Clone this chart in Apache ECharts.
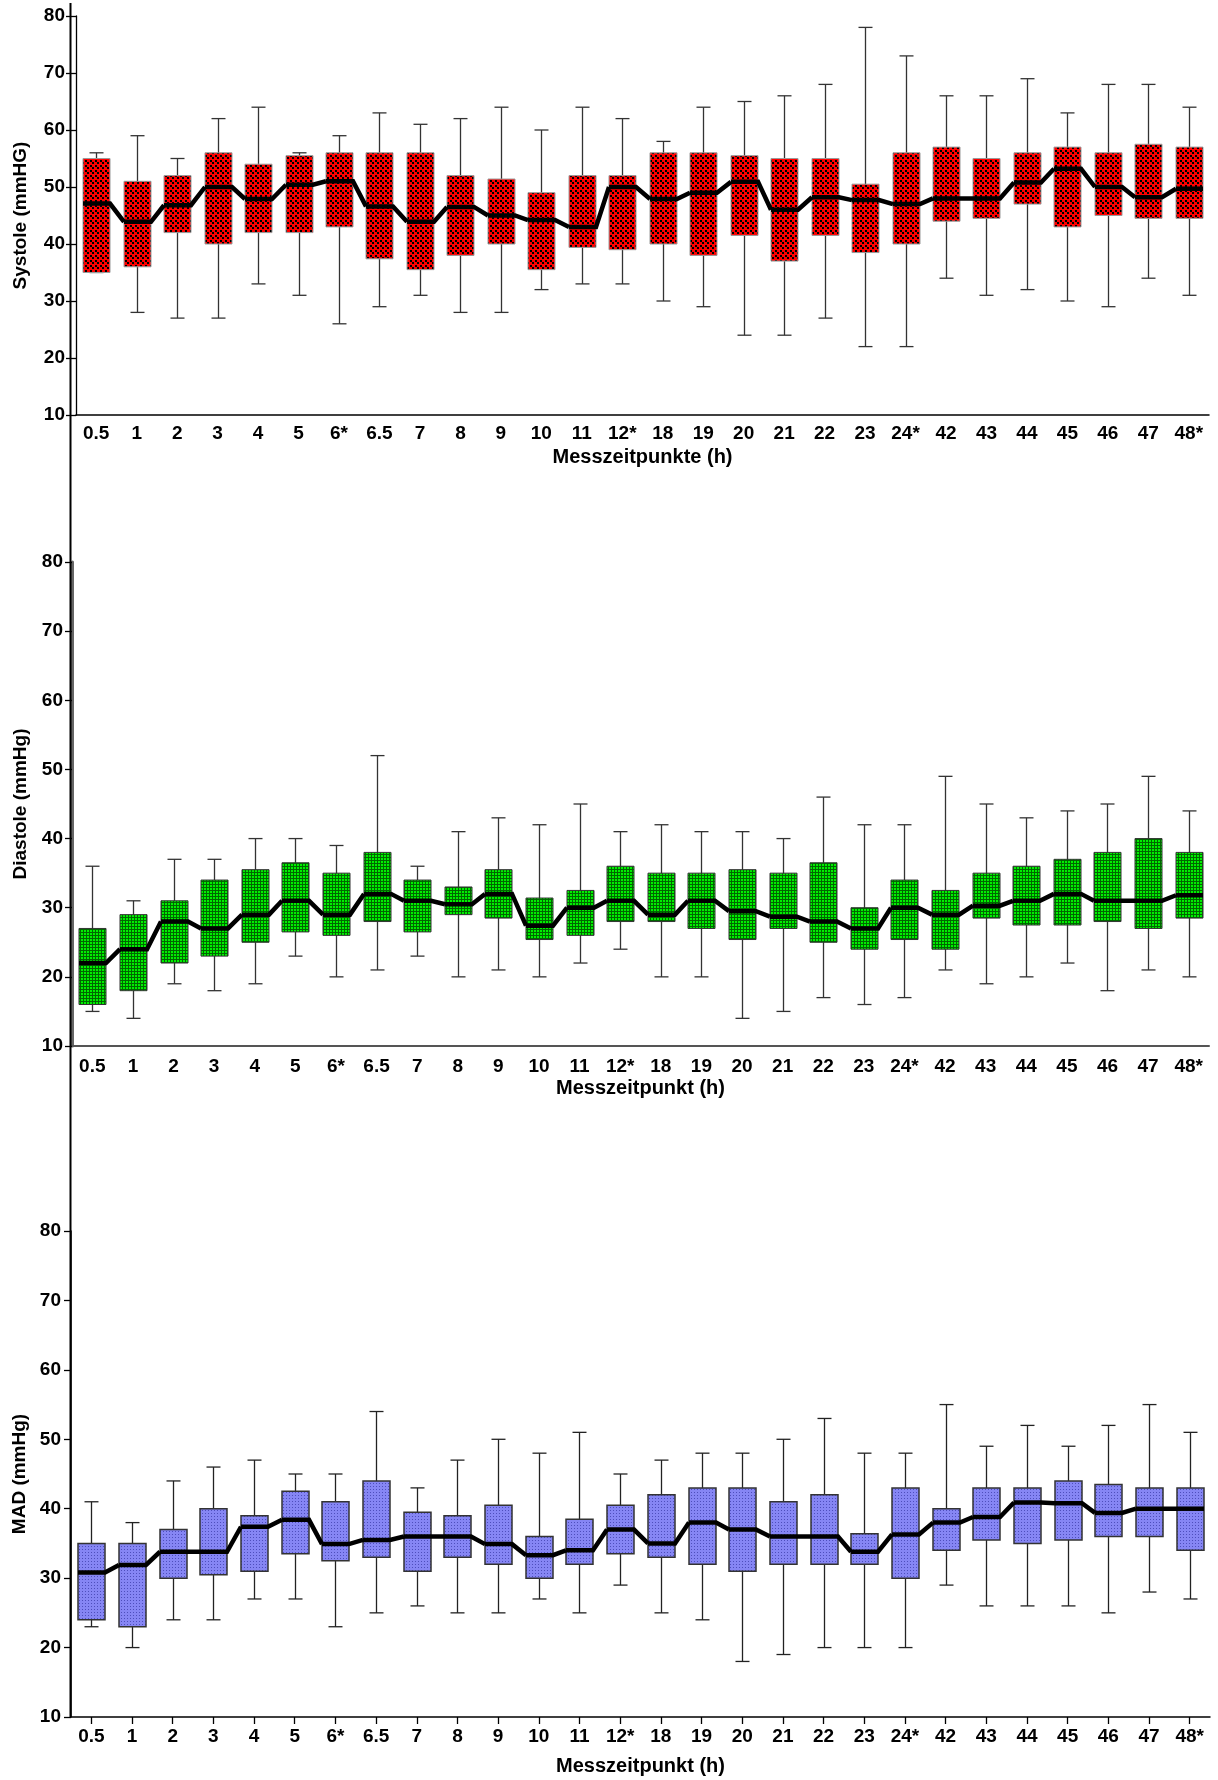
<!DOCTYPE html>
<html><head><meta charset="utf-8">
<script src="https://cdn.jsdelivr.net/npm/echarts/dist/echarts.min.js"></script>
<style>html,body{margin:0;padding:0;background:#fff}#c{width:1218px;height:1780px}</style>
</head><body><div id="c"></div>
<script>
const categories = ['0.5','1','2','3','4','5','6*','6.5','7','8','9','10','11','12*','18','19','20','21','22','23','24*','42','43','44','45','46','47','48*'];
const yMin = 10, yMax = 80, yStep = 10;

// Systole (mmHG)
const sysMin = [35,28,27,27,33,31,26,29,31,28,28,32,33,33,30,29,24,24,27,22,22,34,31,32,30,29,34,31];
const sysQ1  = [35,36,42,40,42,42,43,37.4,35.5,38,40,35.5,39.4,39,40,38,41.5,37,41.5,38.5,40,44,44.5,47,43,45,44.5,44.5];
const sysMed = [47.1,43.9,46.8,50,47.9,50.4,51,46.6,43.9,46.5,45,44.2,43,50,47.9,49,50.9,46,48.2,47.7,47,48,48,50.8,53.2,50,48.2,49.7];
const sysQ3  = [55,51,52,56,54,55.5,56,56,56,52,51.4,49,52,52,56,56,55.5,55,55,50.5,56,57,55,56,57,56,57.5,57];
const sysMax = [56,59,55,62,64,56,59,63,61,62,64,60,64,62,58,64,65,66,68,78,73,66,66,69,63,68,68,64];

// Diastole (mmHg)
const diaMin = [15,14,19,18,19,23,20,21,23,20,21,20,22,24,20,20,14,15,17,16,17,21,19,20,22,18,21,20];
const diaQ1  = [16,18,22,23,25,26.5,26,28,26.5,29,28.5,25.4,26,28,28,27,25.4,27,25,24,25.4,24,28.5,27.5,27.5,28,27,28.5];
const diaMed = [22,24,28,27,29,31,29,32,31,30.5,32,27.4,30,31,29,31,29.5,28.7,28,27,30,29,30.3,31,32,31,31,31.8];
const diaQ3  = [27,29,31,34,35.5,36.5,35,38,34,33,35.5,31.4,32.5,36,35,35,35.5,35,36.5,30,34,32.5,35,36,37,38,40,38];
const diaMax = [36,31,37,37,40,40,39,52,36,41,43,42,45,41,42,41,41,40,46,42,42,49,45,43,44,45,49,44];

// MAD (mmHg)
const madMin = [23,20,24,24,27,27,23,25,26,25,25,27,25,29,25,24,18,19,20,20,20,29,26,26,26,25,28,27];
const madQ1  = [24,23,30,30.5,31,33.5,32.5,33,31,33,32,30,32,33.5,33,32,31,32,32,32,30,34,35.5,35,35.5,36,36,34];
const madMed = [30.8,31.9,33.8,33.8,37.4,38.4,34.9,35.5,36,36,34.9,33.3,34,37,35,38,37,36,36,33.8,36.3,38,38.8,40.9,40.8,39.4,40,40];
const madQ3  = [35,35,37,40,39,42.5,41,44,39.5,39,40.5,36,38.5,40.5,42,43,43,41,42,36.4,43,40,43,43,44,43.5,43,43];
const madMax = [41,38,44,46,47,45,45,54,43,47,50,48,51,45,47,48,48,50,53,48,48,55,49,52,49,52,55,51];

const FONT = "'Liberation Sans', Arial, sans-serif";
const BW = 27, CW = 14;

function makePattern(w, h, draw) {
  const c = document.createElement('canvas'); c.width = w; c.height = h;
  draw(c.getContext('2d'));
  return { image: c, repeat: 'repeat' };
}
const redPat = makePattern(5, 5, g => { g.fillStyle = '#ff0000'; g.fillRect(0,0,5,5); g.fillStyle = '#000'; g.fillRect(0,0,2,2); g.fillRect(2,2,2,2); });
const greenPat = makePattern(3, 3, g => { g.fillStyle = '#00f000'; g.fillRect(0,0,3,3); g.fillStyle = '#006800'; g.fillRect(2,0,1,3); g.fillRect(0,2,3,1); });
const bluePat = makePattern(3, 3, g => { g.fillStyle = '#8686f4'; g.fillRect(0,0,3,3); g.fillStyle = '#4e4ebc'; g.fillRect(1,1,1,1); });

function boxRender(fill, boxStroke, boxLW, whisk) {
  return function (params, api) {
    const i = api.value(0);
    const lo = api.coord([i, api.value(1)]);
    const q1 = api.coord([i, api.value(2)]);
    const q3 = api.coord([i, api.value(4)]);
    const hi = api.coord([i, api.value(5)]);
    const x = Math.round(lo[0]) + 0.5;
    const ls = { stroke: whisk, lineWidth: 1.3 };
    return { type: 'group', children: [
      { type: 'line', shape: { x1: x, y1: hi[1], x2: x, y2: lo[1] }, style: ls },
      { type: 'line', shape: { x1: x - CW/2, y1: hi[1], x2: x + CW/2, y2: hi[1] }, style: ls },
      { type: 'line', shape: { x1: x - CW/2, y1: lo[1], x2: x + CW/2, y2: lo[1] }, style: ls },
      { type: 'rect', shape: { x: x - BW/2, y: q3[1], width: BW, height: q1[1] - q3[1] },
        style: { fill: fill, stroke: boxStroke, lineWidth: boxLW } }
    ]};
  };
}
function medRender(med) {
  return function (params, api) {
    const i = params.dataIndex;
    const p = api.coord([i, med[i]]);
    const x = Math.round(p[0]) + 0.5;
    const pts = [[x - BW/2, p[1]], [x + BW/2, p[1]]];
    if (i < med.length - 1) {
      const q = api.coord([i + 1, med[i + 1]]);
      pts.push([Math.round(q[0]) + 0.5 - BW/2, q[1]]);
    }
    return { type: 'polyline', shape: { points: pts }, style: { stroke: '#000', lineWidth: 4.5, fill: null, lineJoin: 'miter' } };
  };
}

const lblStyle = { fontFamily: FONT, fontWeight: 'bold', fontSize: 19, color: '#000' };

function xAx(idx, name, lineColor, lineW, showTick, labelMargin, nameGap) {
  return {
    type: 'category', gridIndex: idx, data: categories, boundaryGap: true,
    name: name, nameLocation: 'middle', nameGap: nameGap,
    nameTextStyle: { fontFamily: FONT, fontWeight: 'bold', fontSize: 20, color: '#000' },
    axisLine: { show: true, lineStyle: { color: lineColor, width: lineW } },
    axisTick: { show: showTick, alignWithLabel: true, length: 7, lineStyle: { color: '#000', width: 1.3 } },
    axisLabel: Object.assign({ interval: 0, margin: labelMargin }, lblStyle),
    splitLine: { show: false }
  };
}
function yAx(idx, name, lineColor, lineW, tickLen, labelMargin, nameGap) {
  return {
    type: 'value', gridIndex: idx, min: yMin, max: yMax, interval: yStep,
    name: name, nameLocation: 'middle', nameGap: nameGap, nameRotate: 90,
    nameTextStyle: { fontFamily: FONT, fontWeight: 'bold', fontSize: 19, color: '#000' },
    axisLine: { show: true, lineStyle: { color: lineColor, width: lineW } },
    axisTick: { show: true, length: tickLen, lineStyle: { color: '#000', width: 1.3 } },
    axisLabel: Object.assign({ margin: labelMargin }, lblStyle),
    splitLine: { show: false }
  };
}

function panelSeries(idx, mn, q1, md, q3, mx, fill, boxStroke, boxLW, whisk) {
  const data = categories.map((c, i) => [i, mn[i], q1[i], md[i], q3[i], mx[i]]);
  return [
    { type: 'custom', xAxisIndex: idx, yAxisIndex: idx, z: 2, silent: true,
      renderItem: boxRender(fill, boxStroke, boxLW, whisk),
      encode: { x: 0, y: [1, 2, 3, 4, 5] }, data: data },
    { type: 'custom', xAxisIndex: idx, yAxisIndex: idx, z: 3, silent: true,
      renderItem: medRender(md),
      encode: { x: 0, y: 1 }, data: md.map((m, i) => [i, m]) }
  ];
}

const chart = echarts.init(document.getElementById('c'), null, { renderer: 'canvas' });
chart.setOption({
  animation: false,
  backgroundColor: '#fff',
  grid: [
    { left: 76, top: 16, width: 1133, height: 399 },
    { left: 72, top: 562, width: 1137, height: 484 },
    { left: 71, top: 1231, width: 1139, height: 486 }
  ],
  xAxis: [
    xAx(0, 'Messzeitpunkte (h)', '#000', 1.5, false, 9, 32),
    xAx(1, 'Messzeitpunkt (h)', '#555', 2, false, 11, 32),
    xAx(2, 'Messzeitpunkt (h)', '#000', 1.5, true, 10, 39)
  ],
  yAxis: [
    yAx(0, 'Systole (mmHG)', '#000', 1.3, 10, 11, 46),
    yAx(1, 'Diastole (mmHg)', '#666', 3, 7, 9, 42),
    yAx(2, 'MAD (mmHg)', '#000', 1.5, 7, 10, 41)
  ],
  graphic: [
    { type: 'line', z: 100, shape: { x1: 70.5, y1: 3, x2: 70.5, y2: 1717 }, style: { stroke: '#000', lineWidth: 2 } }
  ],
  series: [].concat(
    panelSeries(0, sysMin, sysQ1, sysMed, sysQ3, sysMax, redPat, '#9a9a9a', 1, '#333'),
    panelSeries(1, diaMin, diaQ1, diaMed, diaQ3, diaMax, greenPat, '#333', 1, '#333'),
    panelSeries(2, madMin, madQ1, madMed, madQ3, madMax, bluePat, '#333', 1.5, '#222')
  )
});
</script>
</body></html>
